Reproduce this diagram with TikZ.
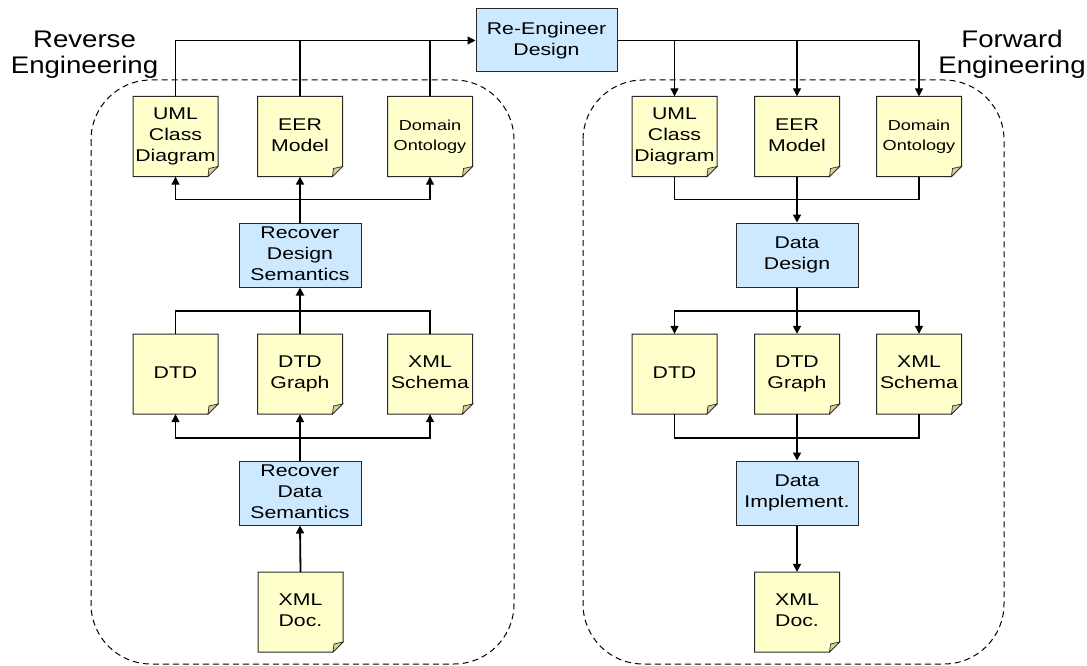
\documentclass[tikz,border=0pt]{standalone}
\usepackage{fontspec}
\setmainfont{Liberation Sans}
\usetikzlibrary{arrows.meta}

\definecolor{notefill}{RGB}{255,255,204}
\definecolor{notefold}{RGB}{214,208,160}
\definecolor{stepfill}{RGB}{204,233,255}
\definecolor{edgegray}{RGB}{40,40,40}

% horizontally widened multi-line text
\newcommand\widetext[2][1.25]{\scalebox{#1}[1]{\begin{tabular}{@{}c@{}}#2\end{tabular}}}
\newcommand\bodyfont{\fontsize{17}{21}\selectfont}
\newcommand\smallbody{\fontsize{14.5}{20}\selectfont}

\tikzset{
  notebox/.style={rectangle, draw=none, minimum width=85pt, minimum height=80pt, inner sep=0pt},
  stepbox/.style={rectangle, draw=edgegray, fill=stepfill, line width=1pt,
                  minimum width=122pt, minimum height=64pt, inner sep=0pt, font=\bodyfont},
  heading/.style={inner sep=0pt, font=\fontsize{24}{26}\selectfont},
  conn/.style={draw=black, line width=1.2pt},
  trunk/.style={line width=1.8pt},
  arr/.style={conn, -{Triangle[length=8pt,width=8pt]}},
  region/.style={draw=black, line width=1pt, dash pattern=on 6pt off 4pt, rounded corners=60pt}
}

% note sheet with folded lower-right corner: name, centre x, centre y, font, text
\newcommand\notenode[5]{%
  \path[draw=edgegray, line width=1pt, fill=notefill]
    ({#2-42.5},{#3-40}) -- ({#2+42.5},{#3-40}) -- ({#2+42.5},{#3+30})
    -- ({#2+32.5},{#3+40}) -- ({#2-42.5},{#3+40}) -- cycle;
  \path[draw=edgegray, line width=0.7pt, fill=notefold]
    ({#2+32.5},{#3+40}) -- ({#2+42.5},{#3+30}) -- ({#2+33.5},{#3+32}) -- cycle;
  \node[notebox] (#1) at (#2,#3) {#4\widetext{#5}};
}

\begin{document}
\begin{tikzpicture}[x=1pt, y=-1pt]
\useasboundingbox (0,0) rectangle (1087,666);

% the two process regions
\draw[region] (91,80) rectangle (514,664);
\draw[region] (583,80) rectangle (1004,664);

% region titles
\node[heading] (revtitle) at (84.5,55) {\widetext[1.15]{Reverse\\Engineering}};
\node[heading] (fwdtitle) at (1012,55) {\widetext[1.15]{Forward\\Engineering}};

% central step
\node[stepbox, minimum width=141pt, minimum height=63pt] (re) at (546.5,40.5) {\widetext{Re-Engineer\\Design}};

% reverse engineering side
\notenode{lu}{175.5}{136.5}{\bodyfont}{UML\\Class\\Diagram}
\notenode{le}{300}{136.5}{\bodyfont}{EER\\Model}
\notenode{lo}{430}{136.5}{\smallbody}{Domain\\Ontology}
\node[stepbox] (rds) at (300,255) {\widetext{Recover\\Design\\Semantics}};
\notenode{ld}{175.5}{374}{\bodyfont}{DTD}
\notenode{lg}{300}{374}{\bodyfont}{DTD\\Graph}
\notenode{ls}{430}{374}{\bodyfont}{XML\\Schema}
\node[stepbox] (rda) at (300,493) {\widetext{Recover\\Data\\Semantics}};
\notenode{lx}{300.5}{612}{\bodyfont}{XML\\Doc.}

% forward engineering side
\notenode{ru}{674.5}{136.5}{\bodyfont}{UML\\Class\\Diagram}
\notenode{rm}{797}{136.5}{\bodyfont}{EER\\Model}
\notenode{ro}{919}{136.5}{\smallbody}{Domain\\Ontology}
\node[stepbox] (dd) at (797,255) {\widetext{Data\\Design}};
\notenode{rd}{674.5}{374}{\bodyfont}{DTD}
\notenode{rg}{797}{374}{\bodyfont}{DTD\\Graph}
\notenode{rs}{919}{374}{\bodyfont}{XML\\Schema}
\node[stepbox] (di) at (797,493) {\widetext{Data\\Implement.}};
\notenode{rx}{797}{612}{\bodyfont}{XML\\Doc.}

% junction points
\coordinate (lj1) at (300,199.5);
\coordinate (lj2) at (300,311);
\coordinate (lj3) at (300,438);
\coordinate (rj1) at (797,199.5);
\coordinate (rj2) at (797,311);
\coordinate (rj3) at (797,438);

% reverse engineering flow (bottom to top)
\draw[arr, trunk] (lx.north) -- (rda.south);
\draw[arr, trunk] (rda.north) -- (lg.south);
\draw[arr] (lj3) -| (ld.south);
\draw[arr] (lj3) -| (ls.south);
\draw[conn] (ld.north) |- (lj2) -| (ls.north);
\draw[arr, trunk] (lg.north) -- (rds.south);
\draw[arr, trunk] (rds.north) -- (le.south);
\draw[arr] (lj1) -| (lu.south);
\draw[arr] (lj1) -| (lo.south);
\draw[arr] (lu.north) |- (re.west);
\draw[conn] (le.north) -- (le.north |- re.west);
\draw[conn] (lo.north) -- (lo.north |- re.west);

% forward engineering flow (top to bottom)
\draw[arr] (re.east) -| (ru.north);
\draw[arr] (re.east) -| (rm.north);
\draw[arr] (re.east) -| (ro.north);
\draw[conn] (ru.south) |- (rj1) -| (ro.south);
\draw[arr, trunk] (rm.south) -- (dd.north);
\draw[arr, trunk] (dd.south) -- (rg.north);
\draw[arr] (rj2) -| (rd.north);
\draw[arr] (rj2) -| (rs.north);
\draw[conn] (rd.south) |- (rj3) -| (rs.south);
\draw[arr, trunk] (rg.south) -- (di.north);
\draw[arr, trunk] (di.south) -- (rx.north);
\end{tikzpicture}
\end{document}
